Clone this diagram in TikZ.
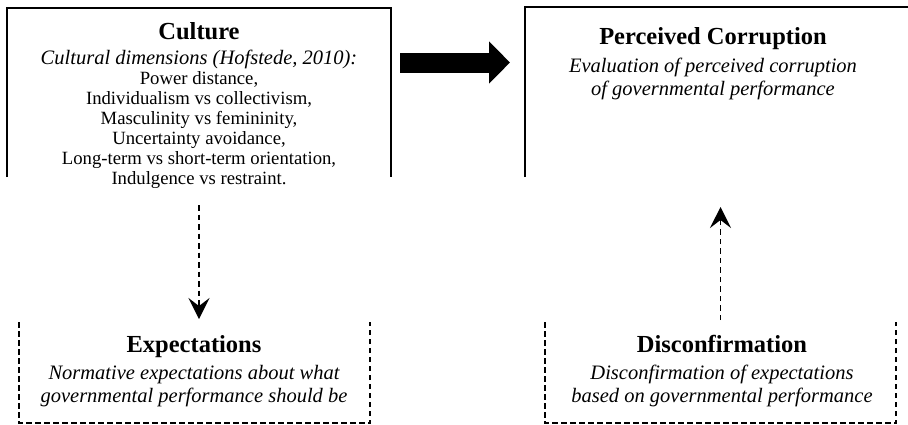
\documentclass[tikz,border=0pt]{standalone}
\usepackage{fontspec}
\setmainfont{Liberation Serif}
\usetikzlibrary{positioning,arrows.meta}

\tikzset{
  box/.style={inner sep=0pt, outer sep=0pt},
  boxline/.style={line width=1.8pt},
  dashline/.style={line width=1.6pt, dash pattern=on 5.5pt off 3.5pt},
  titletext/.style={font=\fontsize{24.5}{28}\selectfont\bfseries, inner sep=0pt, anchor=base},
  bodytext/.style={font=\fontsize{18.7}{20}\selectfont, align=center, inner sep=0pt, anchor=north},
  desctext/.style={font=\fontsize{20.5}{23}\selectfont\itshape, align=center, inner sep=0pt, anchor=north},
  linkarrow/.style={line width=1.5pt, dash pattern=on 5.5pt off 4pt, -{Stealth[length=21pt,width=21pt,inset=8pt]}},
  bigarrow/.style={line width=20pt, -{Triangle[length=21pt,width=41pt]}},
}

\begin{document}
\begin{tikzpicture}[x=1pt,y=-1pt]
  \clip (0,0) rectangle (908,424);

  % the four boxes
  \node[box, minimum width=384pt, minimum height=169pt] (culture) at (199,92.5) {};
  \node[box, minimum width=395pt, minimum height=170pt] (corrupt) at (722.5,92) {};
  \node[box, minimum width=351pt, minimum height=101pt] (expect) at (194.5,372.5) {};
  \node[box, minimum width=351pt, minimum height=101pt] (disconf) at (720.5,372.5) {};

  \draw[boxline] (culture.south west) -- (culture.north west) -- (culture.north east) -- (culture.south east);
  \draw[boxline] (corrupt.south west) -- (corrupt.north west) -- (corrupt.north east) -- (corrupt.south east);
  \draw[dashline] (expect.north west) -- (expect.south west) -- (expect.south east) -- (expect.north east);
  \draw[dashline] (disconf.north west) -- (disconf.south west) -- (disconf.south east) -- (disconf.north east);

  % texts
  \node[titletext] (cultureT) at (199,39.5) {Culture};
  \node[bodytext] (cultureB) at (199,49.5) {{\fontsize{20.5}{20}\selectfont\itshape Cultural dimensions (Hofstede, 2010):}\\
    Power distance,\\ Individualism vs collectivism,\\ Masculinity vs femininity,\\
    Uncertainty avoidance,\\ Long-term vs short-term orientation,\\ Indulgence vs restraint.};

  \node[titletext] (corruptT) at (713,44) {Perceived Corruption};
  \node[desctext] (corruptD) at (713,58) {Evaluation of perceived corruption\\ of governmental performance};

  \node[titletext] (expectT) at (194,352) {Expectations};
  \node[desctext] (expectD) at (194,365) {Normative expectations about what\\ governmental performance should be};

  \node[titletext] (disconfT) at (722,352) {Disconfirmation};
  \node[desctext] (disconfD) at (722,365) {Disconfirmation of expectations\\ based on governmental performance};

  % arrows
  \draw[bigarrow] ([xshift=9pt,yshift=-54.5pt]culture.north east) -- ([xshift=-15pt,yshift=-55.5pt]corrupt.north west);
  \draw[linkarrow, shorten <=28pt, shorten >=3pt] (culture.south) -- (culture.south |- expect.north);
  \draw[linkarrow, shorten <=2pt, shorten >=30pt] (disconf.north) -- (disconf.north |- corrupt.south);
\end{tikzpicture}
\end{document}
